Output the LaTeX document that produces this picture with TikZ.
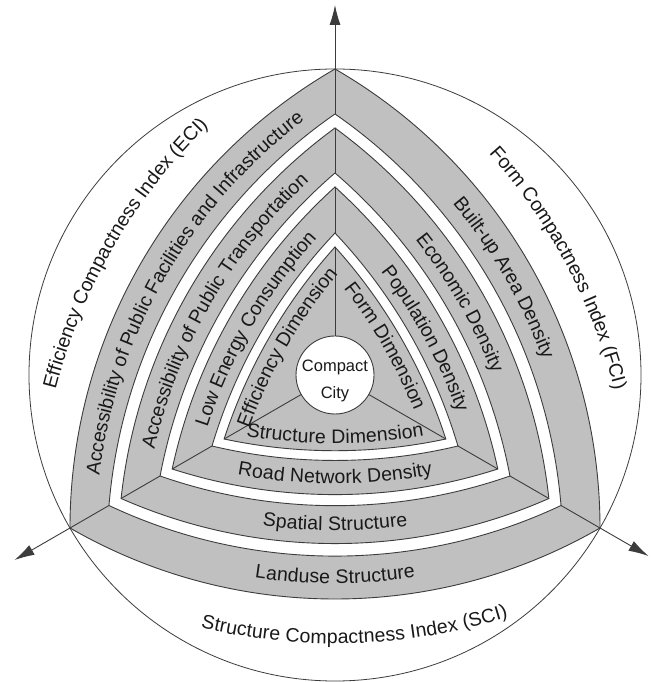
\documentclass[tikz,border=0pt]{standalone}
\usepackage{fontspec}
\setmainfont{Liberation Sans}
\usetikzlibrary{decorations.text,arrows.meta,calc}
\definecolor{bandgray}{RGB}{192,192,192}
\definecolor{edgegray}{RGB}{60,60,60}
\definecolor{txt}{RGB}{25,25,25}
\newcommand\labfont{\fontsize{19.5}{22}\selectfont}
\newcommand\ctri[2]{%
  \pgfmathsetmacro\ctph{asin(0.8660254*#1/530)}%
  \path[#2] (90:#1) arc[start angle=150-\ctph, end angle=150+\ctph, radius=530pt]
    arc[start angle=270-\ctph, end angle=270+\ctph, radius=530pt]
    arc[start angle=30-\ctph, end angle=30+\ctph, radius=530pt] -- cycle;}
% #1 mid direction, #2 arc-centre distance, #3 radius, #4 text, #5 angular shift
\newcommand\labcw[5]{%
  \path[lab={#4}] ($(#1+180:#2)+(#1+40+#5:#3)$) arc[start angle=#1+40+#5, end angle=#1-40+#5, radius=#3pt];}
\newcommand\labccw[5]{%
  \path[lab={#4}] ($(#1+180:#2)+(#1-40+#5:#3)$) arc[start angle=#1-40+#5, end angle=#1+40+#5, radius=#3pt];}
\tikzset{
  bandfill/.style={fill=bandgray, draw=edgegray, line width=0.9pt},
  gapfill/.style={fill=white, draw=edgegray, line width=0.9pt},
  axisline/.style={draw=edgegray, line width=0.9pt},
  lab/.style={decorate, decoration={text along path, text align=center, raise=-6.5pt, text color=txt, text={|\labfont|#1}}},
}
\begin{document}
\begin{tikzpicture}[x=1pt,y=1pt]
\useasboundingbox (-335,-307) rectangle (315,375);
\fill[white] (-335,-307) rectangle (315,375);
\draw[edgegray, line width=0.8pt] (0,0) circle[radius=306pt];
\ctri{306}{bandfill}
\ctri{261}{gapfill}
\ctri{247}{bandfill}
\ctri{202}{gapfill}
\ctri{188}{bandfill}
\ctri{142}{gapfill}
\ctri{128}{bandfill}
\foreach \a/\L in {90/370, 210/370, 330/362} {
  \draw[axisline] (\a:306) -- (\a:261) (\a:247) -- (\a:202) (\a:188) -- (\a:142) (\a:128) -- (\a:38);
  \draw[axisline, -{Latex[length=20pt,width=11pt]}] (\a:306) -- (\a:\L);
}
\node[circle, draw=edgegray, fill=white, line width=0.9pt, minimum size=78pt, inner sep=0pt] (city) at (0,0) {};
\node[align=center, text=txt, inner sep=0pt, font=\fontsize{16.5}{27}\selectfont] (citytext) at (0,-6) {Compact\\City};
\labcw{150}{306}{568}{Efficiency Compactness Index (ECI)}{0}
\labcw{150}{328}{530}{Accessibility of Public Facilities and Infrastructure}{0}
\labcw{150}{380.8}{530}{Accessibility of Public Transportation}{0}
\labcw{150}{427.9}{530}{Low Energy Consumption}{0}
\labcw{150}{468}{530}{Efficiency Dimension}{0}
\labcw{30}{306}{568}{Form Compactness Index (FCI)}{-2}
\labcw{30}{328}{530}{Built-up Area Density}{0}
\labcw{30}{380.8}{530}{Economic Density}{0}
\labcw{30}{427.9}{530}{Population Density}{-1.5}
\labcw{30}{468}{530}{Form Dimension}{0}
\labccw{270}{306}{568}{Structure Compactness Index (SCI)}{2}
\labccw{270}{328}{530}{Landuse Structure}{0}
\labccw{270}{380.8}{530}{Spatial Structure}{0}
\labccw{270}{427.9}{530}{Road Network Density}{0}
\labccw{270}{468}{530}{Structure Dimension}{0}
\end{tikzpicture}
\end{document}
